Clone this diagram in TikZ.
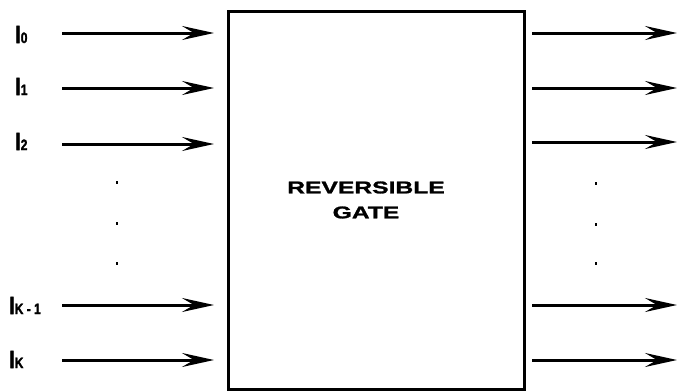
\documentclass[tikz,border=0pt]{standalone}
\usepackage{fontspec}
\setmainfont{Liberation Sans}
\newfontfamily\gatefont[FakeStretch=1.45,FakeBold=1.5]{Liberation Sans Bold}
\newfontfamily\labfont[FakeBold=2,FakeStretch=0.8]{Liberation Sans Bold}
\usetikzlibrary{arrows.meta}

\tikzset{
	wire/.style={line width=3pt,-{Stealth[length=32pt,width=14pt,inset=12pt]}},
	inlab/.style={anchor=base west,inner sep=0pt,font=\labfont\fontsize{25}{25}\selectfont},
	gatetxt/.style={align=center,inner sep=0pt,font=\gatefont\fontsize{17}{25}\selectfont},
	vdot/.style={fill,inner sep=0pt,minimum width=2.5pt,minimum height=3pt}
}
\newcommand{\sublab}[1]{{\fontsize{15}{15}\selectfont #1}}

\begin{document}
\begin{tikzpicture}[x=1pt,y=-1pt]
			\useasboundingbox (0,0) rectangle (678,391);
			% the gate
			\node[draw,line width=2.8pt,minimum width=296pt,minimum height=378pt,anchor=north west,inner sep=0pt] (gate) at (227,10) {};
			\node[gatetxt] (gatelabel) at (366,200) {REVERSIBLE\\GATE};
			% inputs
			\node[inlab] (i0) at (15,43) {I\sublab{0}};
			\node[inlab] (i1) at (15,95) {I\sublab{1}};
			\node[inlab] (i2) at (15,150) {I\sublab{2}};
			\node[inlab] (ik1) at (9,314) {I\sublab{K - 1}};
			\node[inlab] (ik) at (9,368) {I\sublab{K}};
			\coordinate (a0) at (62,33);
			\coordinate (b0) at (214,33);
			\coordinate (a1) at (62,88);
			\coordinate (b1) at (214,88);
			\coordinate (a2) at (62,144);
			\coordinate (b2) at (214,144);
			\coordinate (ak1) at (62,305);
			\coordinate (bk1) at (214,305);
			\coordinate (ak) at (62,360);
			\coordinate (bk) at (214,360);
			\draw[wire] (a0) -- (b0);
			\draw[wire] (a1) -- (b1);
			\draw[wire] (a2) -- (b2);
			\draw[wire] (ak1) -- (bk1);
			\draw[wire] (ak) -- (bk);
			% outputs
			\coordinate (c0) at (532,33);
			\coordinate (d0) at (677,33);
			\coordinate (c1) at (532,88);
			\coordinate (d1) at (677,88);
			\coordinate (c2) at (532,142);
			\coordinate (d2) at (677,142);
			\coordinate (ck1) at (532,305);
			\coordinate (dk1) at (677,305);
			\coordinate (ck) at (532,360);
			\coordinate (dk) at (677,360);
			\draw[wire] (c0) -- (d0);
			\draw[wire] (c1) -- (d1);
			\draw[wire] (c2) -- (d2);
			\draw[wire] (ck1) -- (dk1);
			\draw[wire] (ck) -- (dk);
			% dots
			\node[vdot] (l1) at (117,182) {};
			\node[vdot] (l2) at (117,223) {};
			\node[vdot] (l3) at (117,263) {};
			\node[vdot] (r1) at (596,183) {};
			\node[vdot] (r2) at (596,224) {};
			\node[vdot] (r3) at (596,263) {};
		\end{tikzpicture}
\end{document}
